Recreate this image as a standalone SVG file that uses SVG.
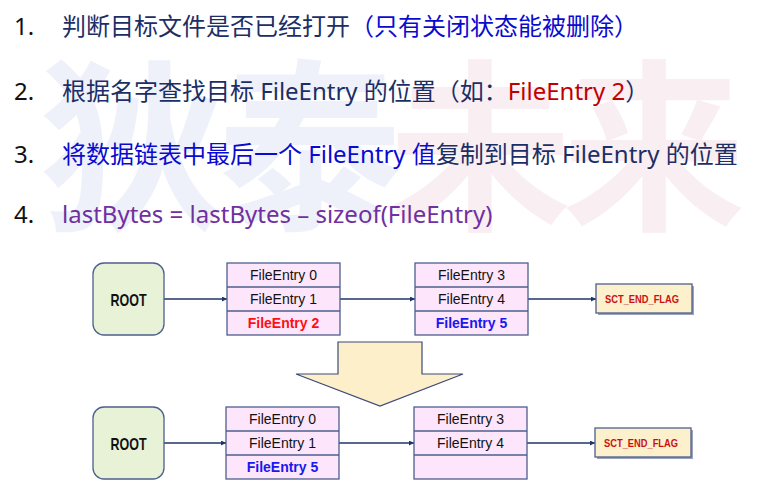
<svg xmlns="http://www.w3.org/2000/svg" width="760" height="492" viewBox="0 0 760 492">
<defs>
<style>
.wm{font-family:"Noto Sans CJK SC","Noto Sans",sans-serif;font-weight:700;font-size:184px}
.t{font-family:"Noto Sans","Noto Sans CJK SC",sans-serif;font-size:24px}
.num{fill:#111111}
.navy{fill:#1c2e66}
.blue{fill:#0a0ad0}
.red{fill:#c00000}
.purple{fill:#7030a0}
.root{fill:#e8f2d6;stroke:#4d5f8e;stroke-width:1.3}
.rootT{font-family:"Liberation Sans",Arial,sans-serif;font-weight:700;font-size:17px;fill:#111111}
.list{fill:#fde6fb;stroke:#4d5f8e;stroke-width:1.3}
.div{stroke:#4d5f8e;stroke-width:1.3}
.fe{font-family:"Liberation Sans",Arial,sans-serif;font-size:14px;fill:#111111}
.feR{font-family:"Liberation Sans",Arial,sans-serif;font-size:14px;font-weight:700;fill:#ff1010}
.feB{font-family:"Liberation Sans",Arial,sans-serif;font-size:14px;font-weight:700;fill:#1818f0}
.flag{fill:#fdf0cc;stroke:#4d5f8e;stroke-width:1.3}
.flagT{font-family:"Liberation Sans",Arial,sans-serif;font-size:10px;font-weight:700;fill:#cc1010}
.conn{stroke:#1f3568;stroke-width:1.6;fill:none}
</style>
<marker id="ah" viewBox="0 0 8 8" refX="8" refY="4" markerWidth="5" markerHeight="5" orient="auto" markerUnits="userSpaceOnUse">
<path d="M0,0 L8,4 L0,8 z" fill="#1f3568"/>
</marker>
</defs>
<rect width="760" height="492" fill="#ffffff"/>
<g id="watermark">
<text class="wm" x="40" y="216" fill="#eef1f9">狄</text>
<text class="wm" x="218" y="216" fill="#eef1f9">泰</text>
<text class="wm" x="388" y="216" fill="#f9eef1">未</text>
<text class="wm" x="562" y="216" fill="#f9eef1">来</text>
</g>
<g id="steps">
<text class="t num" x="14" y="35">1.</text>
<text class="t" x="62" y="35"><tspan class="navy">判断目标文件是否已经打开</tspan><tspan class="blue">（只有关闭状态能被删除）</tspan></text>
<text class="t num" x="14" y="100">2.</text>
<text class="t" x="62" y="100"><tspan class="navy">根据名字查找目标 FileEntry 的位置（如：</tspan><tspan class="red">FileEntry 2</tspan><tspan class="navy">）</tspan></text>
<text class="t num" x="14" y="163">3.</text>
<text class="t" x="62" y="163"><tspan class="blue">将数据链表中最后一个 FileEntry 值</tspan><tspan class="navy">复制到目标 FileEntry 的位置</tspan></text>
<text class="t num" x="14" y="223">4.</text>
<text class="t purple" x="62" y="223">lastBytes = lastBytes – sizeof(FileEntry)</text>
</g>
<g id="connectors">
<line class="conn" x1="164" y1="299" x2="227" y2="299" marker-end="url(#ah)"/>
<line class="conn" x1="340" y1="299" x2="415" y2="299" marker-end="url(#ah)"/>
<line class="conn" x1="528" y1="299" x2="596" y2="299" marker-end="url(#ah)"/>
<line class="conn" x1="164" y1="443" x2="226" y2="443" marker-end="url(#ah)"/>
<line class="conn" x1="339" y1="443" x2="414" y2="443" marker-end="url(#ah)"/>
<line class="conn" x1="527" y1="443" x2="595" y2="443" marker-end="url(#ah)"/>
</g>
<g id="root1">
<rect class="root" x="93" y="263" width="71" height="72" rx="11"/>
<text class="rootT" x="128.5" y="306" text-anchor="middle" textLength="36" lengthAdjust="spacingAndGlyphs">ROOT</text>
</g>
<g id="list1a">
<rect class="list" x="227" y="263" width="113" height="72"/>
<line class="div" x1="227" y1="287" x2="340" y2="287"/>
<line class="div" x1="227" y1="311" x2="340" y2="311"/>
<text class="fe" x="283.5" y="280" text-anchor="middle">FileEntry 0</text>
<text class="fe" x="283.5" y="304" text-anchor="middle">FileEntry 1</text>
<text class="feR" x="283.5" y="328" text-anchor="middle">FileEntry 2</text>
</g>
<g id="list2a">
<rect class="list" x="415" y="263" width="113" height="72"/>
<line class="div" x1="415" y1="287" x2="528" y2="287"/>
<line class="div" x1="415" y1="311" x2="528" y2="311"/>
<text class="fe" x="471.5" y="280" text-anchor="middle">FileEntry 3</text>
<text class="fe" x="471.5" y="304" text-anchor="middle">FileEntry 4</text>
<text class="feB" x="471.5" y="328" text-anchor="middle">FileEntry 5</text>
</g>
<g id="flag1">
<rect x="598" y="286" width="96" height="29" fill="#9aa3bd"/>
<rect class="flag" x="596" y="284" width="96" height="29"/>
<text class="flagT" x="642" y="302.5" text-anchor="middle" textLength="74" lengthAdjust="spacingAndGlyphs">SCT_END_FLAG</text>
</g>
<g id="bigArrow">
<polygon points="338,342 422,342 422,374 463,374 380,406 296,374 338,374" fill="#fdefc9" stroke="#3b4a7a" stroke-width="1.2"/>
</g>
<g id="root2">
<rect class="root" x="93" y="407" width="71" height="72" rx="11"/>
<text class="rootT" x="128.5" y="450" text-anchor="middle" textLength="36" lengthAdjust="spacingAndGlyphs">ROOT</text>
</g>
<g id="list1b">
<rect class="list" x="226" y="407" width="113" height="72"/>
<line class="div" x1="226" y1="431" x2="339" y2="431"/>
<line class="div" x1="226" y1="455" x2="339" y2="455"/>
<text class="fe" x="282.5" y="424" text-anchor="middle">FileEntry 0</text>
<text class="fe" x="282.5" y="448" text-anchor="middle">FileEntry 1</text>
<text class="feB" x="282.5" y="472" text-anchor="middle">FileEntry 5</text>
</g>
<g id="list2b">
<rect class="list" x="414" y="407" width="113" height="72"/>
<line class="div" x1="414" y1="431" x2="527" y2="431"/>
<line class="div" x1="414" y1="455" x2="527" y2="455"/>
<text class="fe" x="470.5" y="424" text-anchor="middle">FileEntry 3</text>
<text class="fe" x="470.5" y="448" text-anchor="middle">FileEntry 4</text>
</g>
<g id="flag2">
<rect x="597" y="430" width="96" height="29" fill="#9aa3bd"/>
<rect class="flag" x="595" y="428" width="96" height="29"/>
<text class="flagT" x="641" y="446.5" text-anchor="middle" textLength="74" lengthAdjust="spacingAndGlyphs">SCT_END_FLAG</text>
</g>
</svg>
